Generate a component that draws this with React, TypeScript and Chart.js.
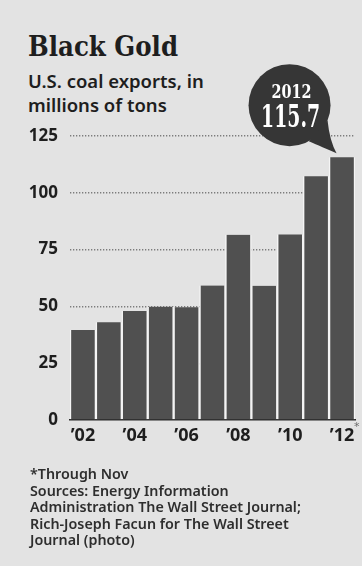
import React, { useEffect, useRef } from "react";
import { Chart, registerables } from "chart.js";

Chart.register(...registerables);

// ---- data ----
const years = ["2002", "2003", "2004", "2005", "2006", "2007", "2008", "2009", "2010", "2011", "2012"];
const yearLabels = ["’02", "’03", "’04", "’05", "’06", "’07", "’08", "’09", "’10", "’11", "’12"];
const coalExports = [39.6, 43.0, 48.0, 49.9, 49.6, 59.2, 81.5, 59.1, 81.7, 107.3, 115.7];
const yTickValues = [0, 25, 50, 75, 100, 125];
const calloutYear = "2012";
const calloutValue = "115.7";
const titleText = "Black Gold";
const subtitleLines = ["U.S. coal exports, in", "millions of tons"];
const footnoteLines = [
  "*Through Nov",
  "Sources: Energy Information",
  "Administration The Wall Street Journal;",
  "Rich-Joseph Facun for The Wall Street",
  "Journal (photo)",
];

const BG = "#e3e3e3";
const BAR = "#505050";
const BUBBLE = "#363636";
const INK = "#1e1e1e";

function fitText(ctx: CanvasRenderingContext2D, text: string, cx: number, by: number, font: string, targetW: number) {
  ctx.save();
  ctx.font = font;
  const w = ctx.measureText(text).width;
  ctx.translate(cx, by);
  ctx.scale(targetW / w, 1);
  ctx.textAlign = "center";
  ctx.textBaseline = "alphabetic";
  ctx.fillText(text, 0, 0);
  ctx.restore();
}

const calloutPlugin = {
  id: "callout",
  afterDatasetsDraw(chart: any) {
    const meta = chart.getDatasetMeta(0);
    const el = meta.data[meta.data.length - 1];
    if (!el) return;
    const { x, y } = el.getProps(["x", "y"], true);
    const ctx: CanvasRenderingContext2D = chart.ctx;
    const cx = x - 52.5;
    const cy = y - 52;
    const r = 41;
    ctx.save();
    ctx.fillStyle = BUBBLE;
    ctx.beginPath();
    ctx.arc(cx, cy, r, 0, Math.PI * 2);
    ctx.fill();
    const a1 = (22 * Math.PI) / 180;
    const a2 = (62 * Math.PI) / 180;
    ctx.beginPath();
    ctx.moveTo(cx + r * Math.cos(a1), cy + r * Math.sin(a1));
    ctx.quadraticCurveTo(cx + r * 0.98, cy + r * 0.88, x - 5.5, y - 4);
    ctx.quadraticCurveTo(cx + r * 0.62, cy + r * 0.95, cx + r * Math.cos(a2), cy + r * Math.sin(a2));
    ctx.closePath();
    ctx.fill();
    ctx.fillStyle = "#ffffff";
    fitText(ctx, calloutYear, cx + 2, cy - 7, 'bold 18px "DejaVu Serif", serif', 40);
    fitText(ctx, calloutValue, cx + 1, cy + 22, 'bold 31px "DejaVu Serif", serif', 59);

    // footnote star after last tick label
    ctx.fillStyle = "#6a6a6a";
    ctx.font = '11px "DejaVu Sans"';
    ctx.textAlign = "left";
    ctx.textBaseline = "middle";
    ctx.fillText("*", x + 12, chart.chartArea.bottom + 7);
    ctx.restore();
  },
};

export default function App() {
  const ref = useRef<HTMLCanvasElement | null>(null);

  useEffect(() => {
    document.body.style.margin = "0";
    const canvas = ref.current;
    if (!canvas) return;
    const chart = new Chart(canvas, {
      type: "bar",
      data: {
        labels: yearLabels,
        datasets: [
          {
            label: "U.S. coal exports",
            data: coalExports,
            backgroundColor: BAR,
            borderColor: "#f5f5f5",
            borderWidth: { left: 1.5, right: 1.5, top: 0, bottom: 0 },
            borderSkipped: false,
            categoryPercentage: 1,
            barPercentage: 1,
          },
        ],
      },
      options: {
        responsive: false,
        animation: false,
        layout: { padding: { top: 136, left: 0, right: 7, bottom: 116 } },
        plugins: {
          legend: { display: false },
          tooltip: { enabled: false },
          title: { display: false },
        },
        scales: {
          x: {
            offset: true,
            grid: { display: false, drawTicks: false },
            border: { display: true, color: "#2a2a2a", width: 1.5 },
            ticks: {
              autoSkip: false,
              maxRotation: 0,
              padding: 5,
              color: INK,
              font: { family: "'Noto Sans'", size: 18, weight: "700" },
              callback: (_v: any, i: number) => (i % 2 === 0 ? yearLabels[i] : ""),
            },
            afterFit: (s: any) => {
              s.height = 30;
            },
          },
          y: {
            min: 0,
            max: 125,
            afterBuildTicks: (s: any) => {
              s.ticks = yTickValues.map((v) => ({ value: v }));
            },
            grid: {
              drawTicks: false,
              color: (c: any) => (c.tick && c.tick.value === 0 ? "rgba(0,0,0,0)" : "#7c7c7c"),
              lineWidth: 1.4,
            },
            border: { display: false, dash: [1.3, 1.7] },
            ticks: {
              padding: 12,
              color: INK,
              font: { family: "'Noto Sans'", size: 17, weight: "700" },
            },
            afterFit: (s: any) => {
              s.width = 70;
            },
          },
        },
      },
      plugins: [calloutPlugin],
    });
    return () => chart.destroy();
  }, []);

  return (
    <div style={{ position: "fixed", left: 0, top: 0, width: 362, height: 566, background: BG, overflow: "hidden" }}>
      <div
        style={{
          position: "absolute",
          left: 28,
          top: 33,
          fontFamily: "'DejaVu Serif', serif",
          fontWeight: 700,
          fontSize: 28,
          lineHeight: "28px",
          color: INK,
          whiteSpace: "nowrap",
          transform: "scaleX(0.875)",
          transformOrigin: "left top",
        }}
      >
        {titleText}
      </div>
      <div
        style={{
          position: "absolute",
          left: 28,
          top: 69,
          fontFamily: "'Noto Sans'",
          fontWeight: 600,
          fontSize: 18.5,
          lineHeight: "24px",
          color: INK,
          whiteSpace: "nowrap",
        }}
      >
        {subtitleLines.map((l, i) => (
          <div key={i}>{l}</div>
        ))}
      </div>
      <canvas ref={ref} width={362} height={566} style={{ position: "absolute", left: 0, top: 0 }} />
      <div
        style={{
          position: "absolute",
          left: 30,
          top: 466,
          fontFamily: "'Noto Sans'",
          fontWeight: 600,
          fontSize: 14.3,
          lineHeight: "16.6px",
          color: "#2e2e2e",
          whiteSpace: "nowrap",
        }}
      >
        {footnoteLines.map((l, i) => (
          <div key={i}>{l}</div>
        ))}
      </div>
    </div>
  );
}
